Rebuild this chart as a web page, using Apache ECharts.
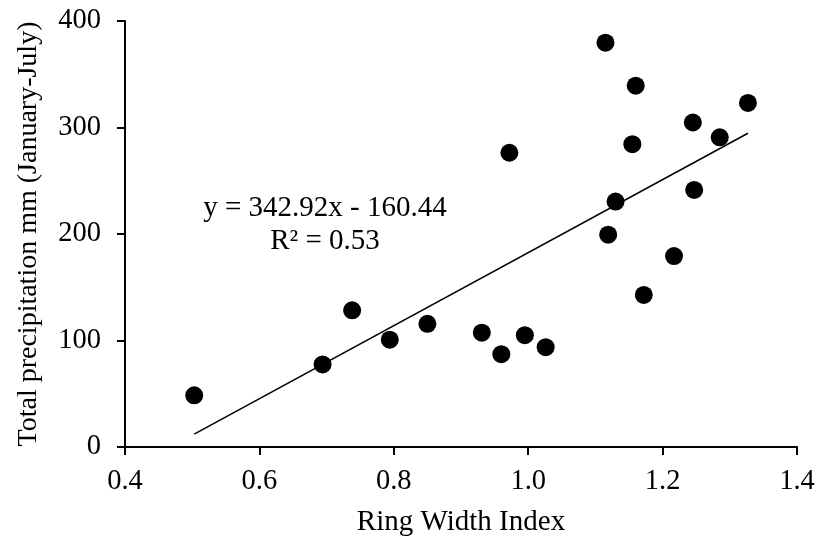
<!DOCTYPE html>
<html>
<head>
<meta charset="utf-8">
<script src="https://cdn.jsdelivr.net/npm/echarts@6/dist/echarts.min.js"></script>
<style>html,body{margin:0;padding:0;background:#fff}#c{width:817px;height:540px}</style>
</head>
<body>
<div id="c"></div>
<script>
const ringWidth = [0.503,0.694,0.738,0.794,0.850,0.931,0.960,0.995,1.026,0.972,1.115,1.160,1.327,1.245,1.285,1.155,1.247,1.130,1.119,1.217,1.172];
const precip    = [48.5,77.5,128.3,100.8,115.7,107.3,87.2,105,93.7,276.3,379.6,339.3,323.1,304.7,290.8,284.3,241.4,230.4,199.4,179.3,142.8];
const trendX = [0.503, 1.327];
const trendY = [12.05, 294.6];
const equationText = ['y = 342.92x - 160.44', 'R² = 0.53'];
const xTitle = 'Ring Width Index';
const yTitle = 'Total precipitation mm (January-July)';

const font = '"Liberation Serif","Times New Roman",serif';
const chart = echarts.init(document.getElementById('c'));
chart.setOption({
  animation: false,
  grid: {left: 125, right: 20, top: 21, bottom: 93, containLabel: false, outerBoundsMode: 'none'},
  xAxis: {
    type: 'value', min: 0.4, max: 1.4, interval: 0.2,
    name: xTitle, nameLocation: 'middle', nameGap: 61,
    nameTextStyle: {fontFamily: font, fontSize: 29, color: '#000'},
    axisLine: {lineStyle: {color: '#000', width: 2}},
    axisTick: {show: true, length: 8, lineStyle: {color: '#000', width: 2}},
    axisLabel: {fontFamily: font, fontSize: 28.5, color: '#000', margin: 20, formatter: v => v.toFixed(1)},
    splitLine: {show: false}
  },
  yAxis: {
    type: 'value', min: 0, max: 400, interval: 100,
    name: yTitle, nameLocation: 'middle', nameGap: 82, nameRotate: 90,
    nameTextStyle: {fontFamily: font, fontSize: 28, color: '#000'},
    axisLine: {show: true, lineStyle: {color: '#000', width: 2}},
    axisTick: {show: true, length: 8, lineStyle: {color: '#000', width: 2}},
    axisLabel: {fontFamily: font, fontSize: 28.5, color: '#000', margin: 24},
    splitLine: {show: false}
  },
  series: [
    {
      type: 'line',
      data: trendX.map((x, i) => [x, trendY[i]]),
      symbol: 'none',
      lineStyle: {color: '#000', width: 1.5},
      z: 1
    },
    {
      type: 'scatter',
      data: ringWidth.map((x, i) => [x, precip[i]]),
      symbolSize: 18,
      itemStyle: {color: '#000', opacity: 1},
      z: 2
    }
  ],
  graphic: [
    {type: 'text', x: 325, y: 208, style: {text: equationText[0], font: '29px ' + font, fill: '#000', align: 'center', verticalAlign: 'middle'}},
    {type: 'text', x: 325, y: 241, style: {text: equationText[1], font: '29px ' + font, fill: '#000', align: 'center', verticalAlign: 'middle'}}
  ]
});
</script>
</body>
</html>
